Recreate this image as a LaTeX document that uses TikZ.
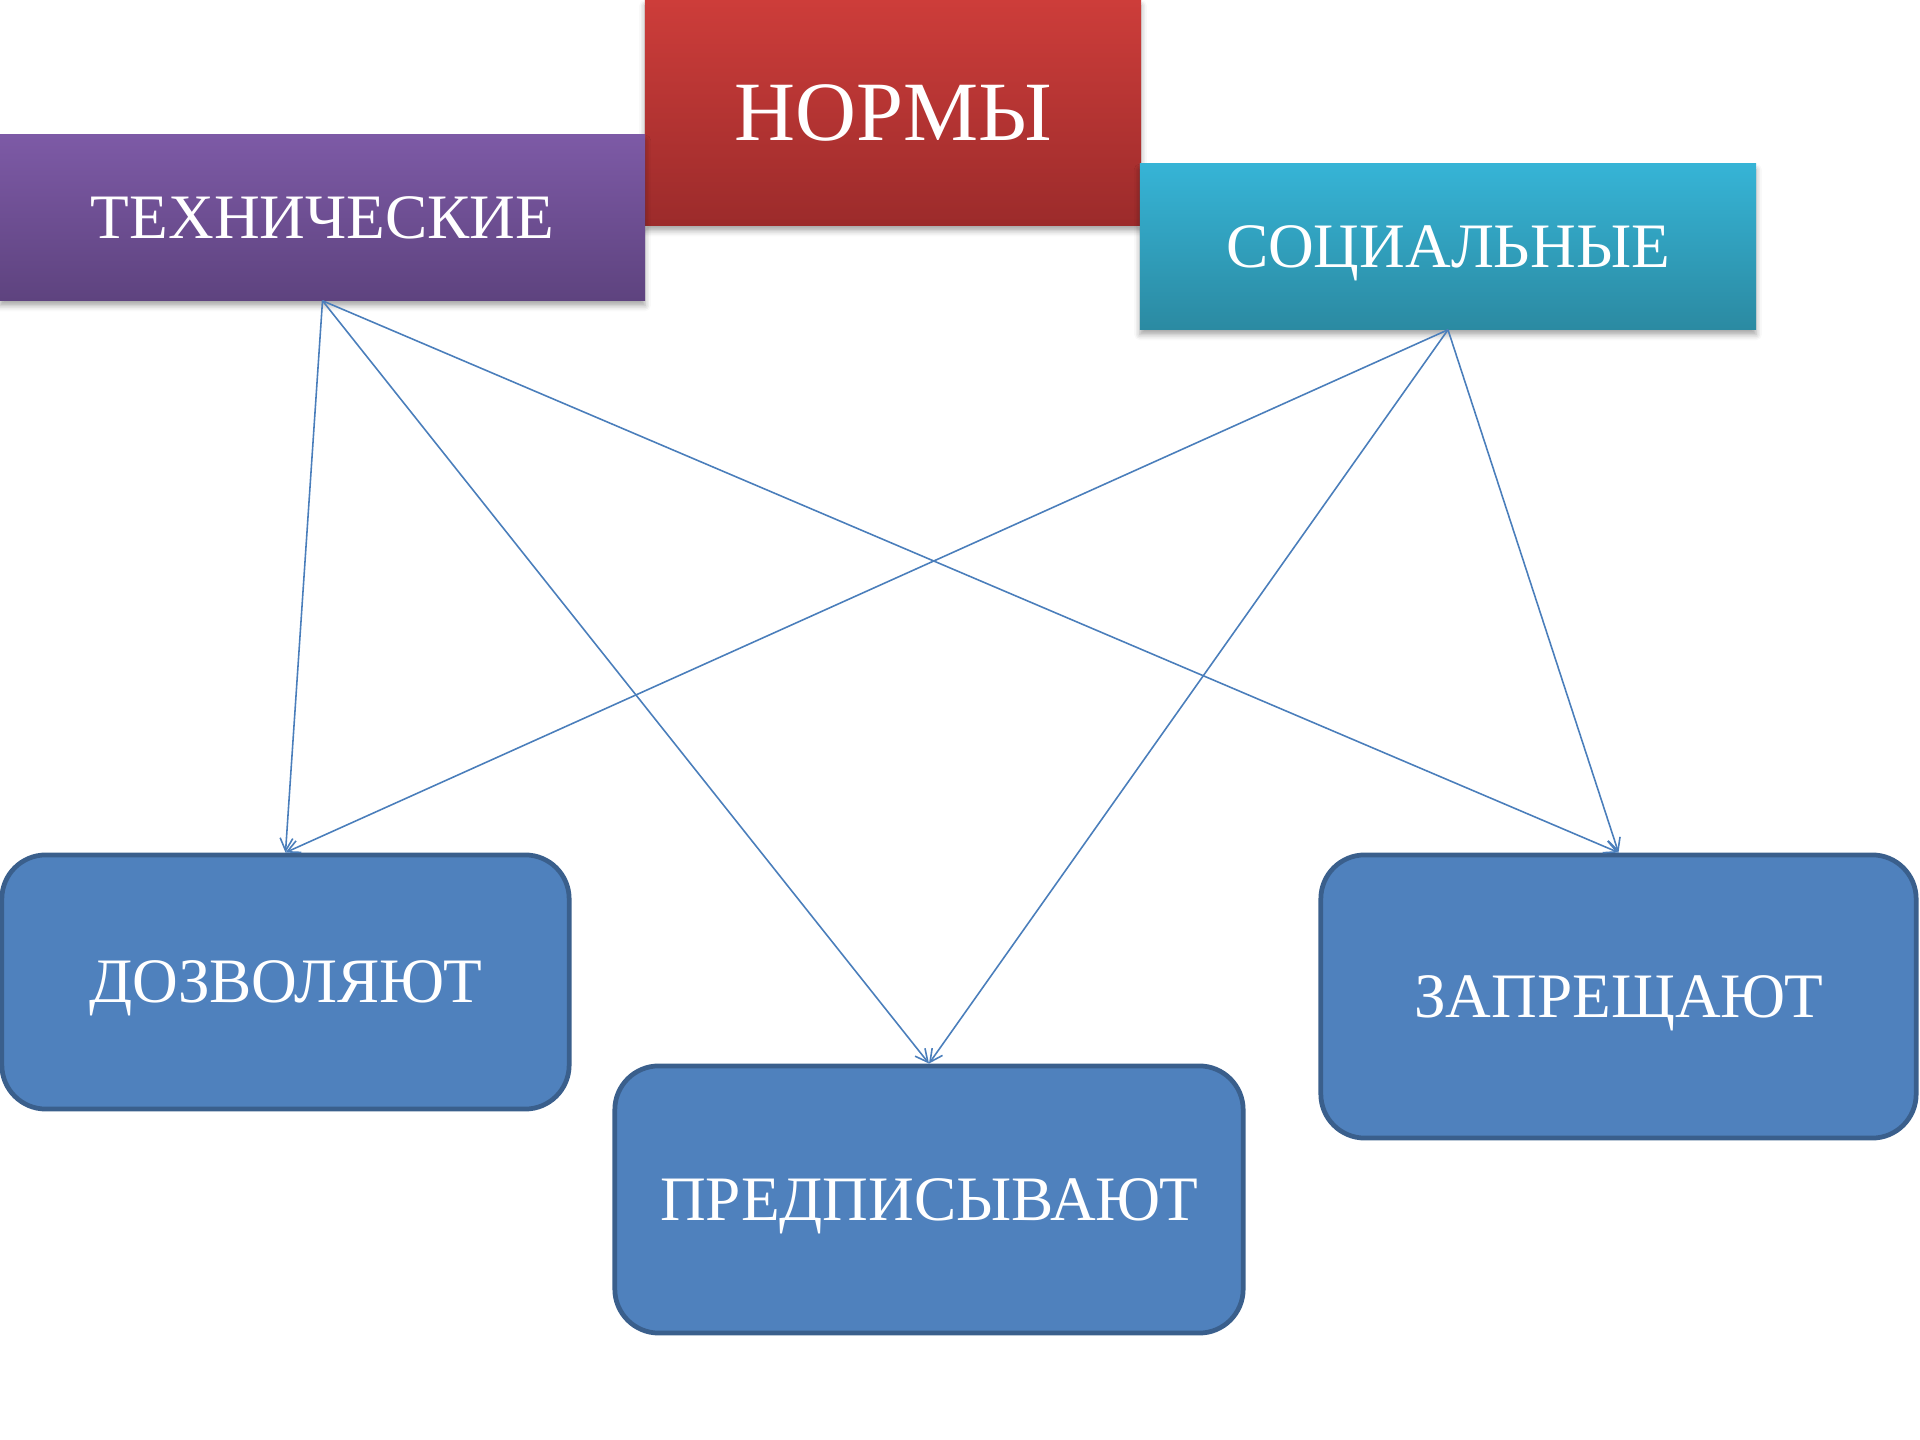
\documentclass[tikz,border=0pt]{standalone}
\usepackage{fontspec}
\setmainfont{Liberation Serif}
\usetikzlibrary{shadows.blur,arrows.meta}
\definecolor{normtop}{HTML}{CD3D3A}
\definecolor{normbot}{HTML}{9C2B2B}
\definecolor{techtop}{HTML}{7D5AA6}
\definecolor{techbot}{HTML}{5E437F}
\definecolor{soctop}{HTML}{36B4D6}
\definecolor{socbot}{HTML}{2B8AA2}
\definecolor{kindfill}{HTML}{4F81BD}
\definecolor{kindline}{HTML}{3A5F8C}
\definecolor{linkcol}{HTML}{4A7EBB}
\tikzset{
	head/.style={shade,text=white,font=\fontsize{18}{22}\selectfont,text depth=0pt,
		blur shadow={shadow xshift=0pt,shadow yshift=-1.6pt,shadow blur radius=1.6pt,shadow opacity=35}},
	kind/.style={draw=kindline,fill=kindfill,line width=1.35pt,rounded corners=12.5pt,
		text=white,font=\fontsize{18}{22}\selectfont,text depth=0pt},
	link/.style={draw=linkcol,line width=0.45pt,-{Straight Barb[length=3.6pt,width=3.6pt]}}
}

\begin{document}
\begin{tikzpicture}[x=0.01cm,y=-0.01cm]
	    \useasboundingbox (0,0) rectangle (1920,1440);
	    \node[head,top color=normtop,bottom color=normbot,minimum width=4.96cm,minimum height=2.25cm,
	    	font=\fontsize{24}{28}\selectfont] (norms) at (893,112.5) {НОРМЫ};
	    \node[head,top color=techtop,bottom color=techbot,minimum width=6.45cm,minimum height=1.65cm] (tech) at (322.5,217.5) {ТЕХНИЧЕСКИЕ};
	    \node[head,top color=soctop,bottom color=socbot,minimum width=6.16cm,minimum height=1.65cm] (social) at (1448,246.5) {СОЦИАЛЬНЫЕ};
	    \node[kind,minimum width=5.67cm,minimum height=2.54cm] (allow) at (285.5,982) {ДОЗВОЛЯЮТ};
	    \node[kind,minimum width=6.28cm,minimum height=2.67cm] (prescribe) at (929,1199.5) {ПРЕДПИСЫВАЮТ};
	    \node[kind,minimum width=5.95cm,minimum height=2.83cm] (forbid) at (1618.5,996.5) {ЗАПРЕЩАЮТ};
	    \foreach \src in {tech,social}
	    	\foreach \dst in {allow,prescribe,forbid}
	    		\draw[link] (\src.south) -- (\dst.north);
        \end{tikzpicture}
\end{document}
